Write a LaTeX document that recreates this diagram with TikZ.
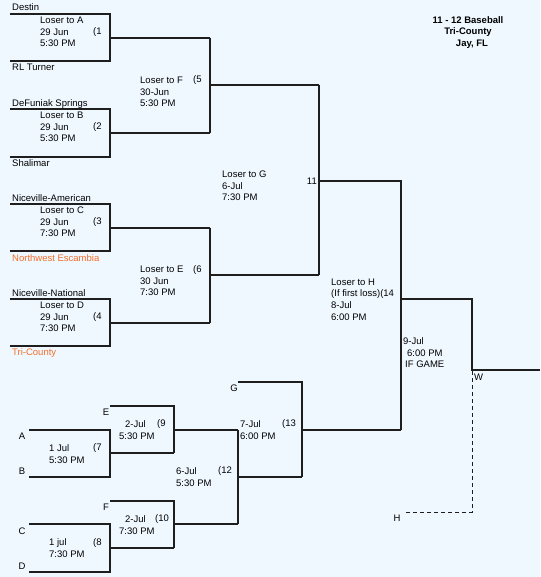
\documentclass[tikz,border=0pt]{standalone}
\usepackage{fontspec}
\setmainfont{Liberation Sans}
\definecolor{bg}{RGB}{240,248,255}
\definecolor{ln}{RGB}{30,30,30}
\definecolor{org}{RGB}{240,110,40}
\begin{document}
\begin{tikzpicture}[x=1pt,y=-1pt,
  br/.style={draw=ln,line width=1.1pt},
  dsh/.style={draw=ln,line width=1pt,dash pattern=on 4pt off 3pt},
  txt/.style={inner sep=0pt,anchor=west,align=left,font=\fontsize{9.5}{11.6}\selectfont},
  lbl/.style={inner sep=0pt,font=\fontsize{9.5}{11.6}\selectfont},
  ttl/.style={inner sep=0pt,font=\fontsize{9.5}{11.6}\selectfont\bfseries}]
\fill[bg] (0,0) rectangle (540,577);
\useasboundingbox (0,0) rectangle (540,577);
% upper bracket
\draw[br] (10,14)--(110,14)--(110,61)--(10,61);
\draw[br] (110,38)--(210,38);
\draw[br] (10,109)--(110,109)--(110,157)--(10,157);
\draw[br] (110,133)--(210,133);
\draw[br] (210,38)--(210,133);
\draw[br] (210,85)--(319,85);
\draw[br] (10,204)--(110,204)--(110,251)--(10,251);
\draw[br] (110,228)--(210,228);
\draw[br] (10,299)--(110,299)--(110,346)--(10,346);
\draw[br] (110,323)--(210,323);
\draw[br] (210,228)--(210,323);
\draw[br] (210,275)--(319,275);
\draw[br] (319,85)--(319,275);
\draw[br] (319,181)--(401,181)--(401,430);
\draw[br] (401,299)--(472,299)--(472,370)--(540,370);
\draw[dsh] (472,371)--(472,512)--(405,512);
% lower bracket
\draw[br] (29,430)--(110,430)--(110,477)--(29,477);
\draw[br] (110,453)--(174,453);
\draw[br] (110,406)--(174,406)--(174,453);
\draw[br] (174,430)--(238,430);
\draw[br] (29,524)--(110,524)--(110,572)--(29,572);
\draw[br] (110,548)--(174,548);
\draw[br] (110,501)--(174,501)--(174,548);
\draw[br] (174,524)--(238,524);
\draw[br] (238,430)--(238,524);
\draw[br] (238,477)--(302,477);
\draw[br] (238,382)--(302,382)--(302,477);
\draw[br] (302,430)--(401,430);
% team names
\node[txt] (t1) at (12,7) {Destin};
\node[txt] (t2) at (12,67) {RL Turner};
\node[txt] (t3) at (12,104) {DeFuniak Springs};
\node[txt] (t4) at (12,163) {Shalimar};
\node[txt] (t5) at (12,198) {Niceville-American};
\node[txt,text=org] (t6) at (12,258) {Northwest Escambia};
\node[txt] (t7) at (12,293) {Niceville-National};
\node[txt,text=org] (t8) at (12,353) {Tri-County};
% game texts
\node[txt] (g1) at (40,32) {Loser to A\\29 Jun\\5:30 PM};
\node[txt] (n1) at (93,32) {(1};
\node[txt] (g2) at (40,127) {Loser to B\\29 Jun\\5:30 PM};
\node[txt] (n2) at (93,127) {(2};
\node[txt] (g3) at (40,222) {Loser to C\\29 Jun\\7:30 PM};
\node[txt] (n3) at (93,222) {(3};
\node[txt] (g4) at (40,317) {Loser to D\\29 Jun\\7:30 PM};
\node[txt] (n4) at (93,317) {(4};
\node[txt] (g5) at (140,92) {Loser to F\\30-Jun\\5:30 PM};
\node[txt] (n5) at (193,80) {(5};
\node[txt] (g6) at (140,281) {Loser to E\\30 Jun\\7:30 PM};
\node[txt] (n6) at (193,270) {(6};
\node[txt] (g11) at (222,186) {Loser to G\\6-Jul\\7:30 PM};
\node[lbl,anchor=east] (n11) at (317,181) {11};
\node[txt] (g14) at (331,299.5) {Loser to H\\(If first loss)(14\\8-Jul\\6:00 PM};
\node[txt] (g15) at (403,353) {9-Jul\\\hspace*{4pt}6:00 PM\\\hspace*{2pt}IF GAME};
% lower texts
\node[lbl] (la) at (22,436) {A};
\node[lbl] (lb) at (22,471) {B};
\node[lbl] (lc) at (22,531) {C};
\node[lbl] (ld) at (22,566) {D};
\node[lbl] (le) at (106,412) {E};
\node[lbl] (lf) at (106,507) {F};
\node[lbl] (lg) at (234,388) {G};
\node[lbl] (lh) at (397,518) {H};
\node[txt] (lw) at (474,377) {W};
\node[txt] (g7) at (49,454) {1 Jul\\5:30 PM};
\node[txt] (n7) at (93,448) {(7};
\node[txt] (g8) at (49,548) {1 jul\\7:30 PM};
\node[txt] (n8) at (93,543) {(8};
\node[txt] (g9) at (119,430) {\hspace*{6pt}2-Jul\\5:30 PM};
\node[txt] (n9) at (157,424) {(9};
\node[txt] (g10) at (119,525) {\hspace*{6pt}2-Jul\\7:30 PM};
\node[txt] (n10) at (155,519) {(10};
\node[txt] (g12) at (176,477) {6-Jul\\5:30 PM};
\node[txt] (n12) at (218,471) {(12};
\node[txt] (g13) at (240,430) {7-Jul\\6:00 PM};
\node[txt] (n13) at (282,424) {(13};
% title
\node[ttl] (h1) at (468,20) {11 - 12 Baseball};
\node[ttl] (h2) at (468,32) {Tri-County};
\node[ttl] (h3) at (472,44) {Jay, FL};
\end{tikzpicture}
\end{document}
